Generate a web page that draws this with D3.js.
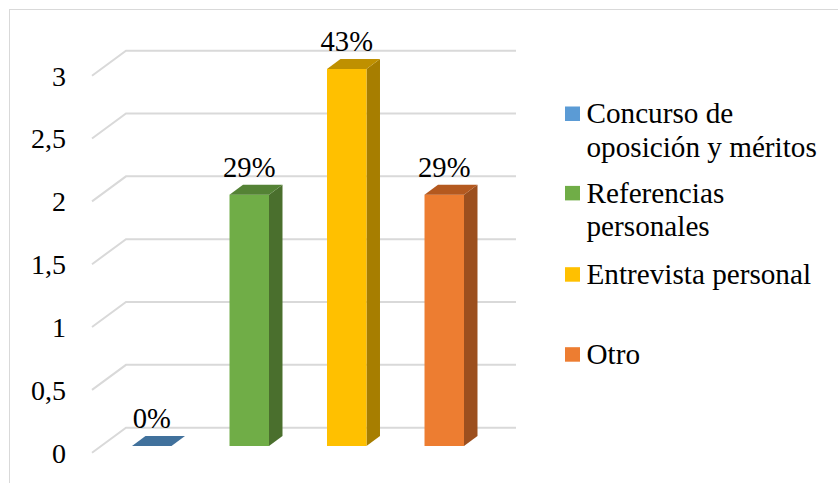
<!DOCTYPE html>
<html><head><meta charset="utf-8">
<script src="https://cdn.jsdelivr.net/npm/d3@7"></script>
<style>body{margin:0;background:#fff}svg{display:block}</style>
</head><body><svg id="c" width="838" height="483"></svg>
<script>
const categories = ["Concurso de oposición y méritos","Referencias personales","Entrevista personal","Otro"];
const legendLines = [["Concurso de","oposición y méritos"],["Referencias","personales"],["Entrevista personal"],["Otro"]];
const values = [0, 2, 3, 2];
const labels = ["0%","29%","43%","29%"];
const yTicks = [0,0.5,1,1.5,2,2.5,3];
const yTickLabels = ["0","0,5","1","1,5","2","2,5","3"];
const front = ["#5B9BD5","#70AD47","#FFC000","#ED7D31"];
const side = ["#2E5A84","#4A6F2D","#A77E00","#9C4F1E"];
const top_ = ["#41719C","#548235","#BF9000","#B4591F"];
const FONT = "Liberation Serif";

const svg = d3.select("#c");
svg.append("rect").attr("x",9.5).attr("y",9.5).attr("width",840).attr("height",490).attr("fill","none").attr("stroke","#D9D9D9");

const DX = 34, DY = 25;
const yB = d3.scaleLinear().domain([0,3]).range([427.7, 50.7]);
const backX0 = 126, backX1 = 516;
const g = svg.append("g");
yTicks.forEach(v=>{
  const y = yB(v);
  g.append("path").attr("d",`M${backX0-DX},${y+DY}L${backX0},${y}L${backX1},${y}`)
   .attr("fill","none").attr("stroke","#D9D9D9").attr("stroke-width",2);
});
svg.append("g").selectAll("text").data(yTicks).join("text")
  .attr("x",66).attr("y",(d)=>yB(d)+DY+9.8).attr("text-anchor","end")
  .style("font-family",FONT).style("font-size","28px").attr("fill","#000").text((d,i)=>yTickLabels[i]);

const x = d3.scaleBand().domain(categories).range([103,493]).paddingInner(0);
const bw = x.bandwidth()*0.405;
const fOff = 18.3;
const sdx = 13.5, sdy = 10;
const h = v => yB(0)-yB(v);
const bars = svg.append("g").selectAll("g").data(categories).join("g");
bars.each(function(c,i){
  const gg = d3.select(this);
  const x0 = x(c) + (x.bandwidth()-bw)/2;
  const yb = yB(0)+fOff;
  const yt = yb - h(values[i]);
  if (values[i] > 0) {
    gg.append("path").attr("d",`M${x0+bw},${yb}L${x0+bw+sdx},${yb-sdy}L${x0+bw+sdx},${yt-sdy}L${x0+bw},${yt}Z`).attr("fill",side[i]);
    gg.append("rect").attr("x",x0).attr("y",yt).attr("width",bw).attr("height",yb-yt).attr("fill",front[i]);
  }
  gg.append("path").attr("d",`M${x0},${yt}L${x0+sdx},${yt-sdy}L${x0+bw+sdx},${yt-sdy}L${x0+bw},${yt}Z`).attr("fill",top_[i]);
  gg.append("text").attr("x",x0+bw/2).attr("y",yt-sdy-8).attr("text-anchor","middle")
    .style("font-family",FONT).style("font-size","28.6px").attr("fill","#000").text(labels[i]);
});

const legY = [123.3, 202.7, 284, 364];
const leg = svg.append("g").selectAll("g").data(categories).join("g");
leg.each(function(c,i){
  const gg = d3.select(this);
  gg.append("rect").attr("x",565).attr("y",legY[i]-16.8).attr("width",15).attr("height",14.5).attr("fill",front[i]);
  legendLines[i].forEach((t,j)=>{
    gg.append("text").attr("x",586.5).attr("y",legY[i]+j*33.4)
      .style("font-family",FONT).style("font-size","29.2px").attr("fill","#000").text(t);
  });
});
</script></body></html>
